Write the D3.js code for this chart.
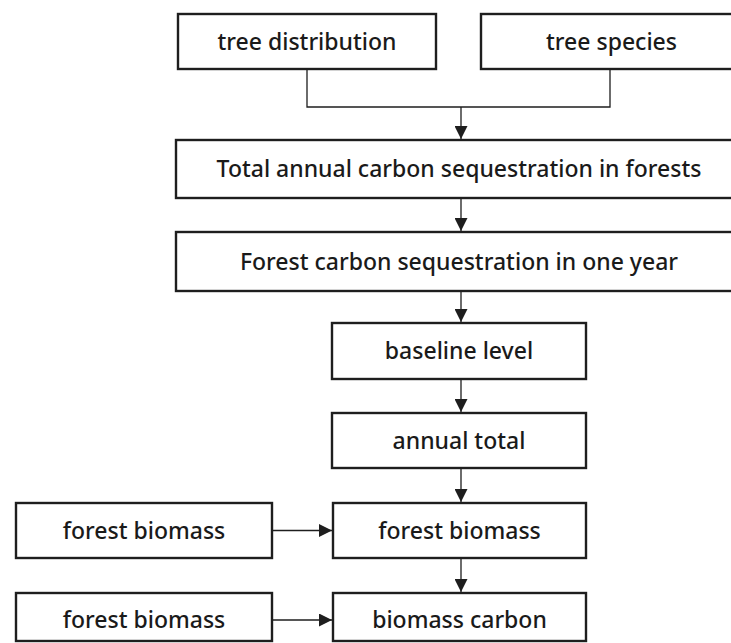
<!DOCTYPE html>
<html lang="en">
<head>
    <meta charset="utf-8">
    <script type="text/javascript" src="https://d3js.org/d3.v7.min.js"></script>
    <style>
        body { margin: 0; background: #fff; overflow: hidden; }
    </style>
</head>

<body>
    <script type="text/javascript">
        let w = 731;
        let h = 643;

        // node ids and their labels
        let nodeIds = ["dist", "species", "total", "oneYear", "baseline", "annual", "biomass", "carbon", "srcA", "srcB"];
        let nodeLabels = ["tree distribution", "tree species",
            "Total annual carbon sequestration in forests",
            "Forest carbon sequestration in one year",
            "baseline level", "annual total", "forest biomass", "biomass carbon",
            "forest biomass", "forest biomass"];

        // flow: [from, to]
        let mergeFrom = ["dist", "species"];
        let mergeTo = "total";
        let chainLinks = [["total", "oneYear"], ["oneYear", "baseline"], ["baseline", "annual"],
            ["annual", "biomass"], ["biomass", "carbon"]];
        let sideLinks = [["srcA", "biomass"], ["srcB", "carbon"]];

        // layout (x0, y0, x1, y1) per node -- right column runs off the page
        let layout = {
            dist:     [178, 14, 436, 69],
            species:  [481, 14, 742, 69],
            total:    [176, 140, 742, 198],
            oneYear:  [176, 232, 742, 291],
            baseline: [332, 323, 586, 379],
            annual:   [332, 413, 586, 468],
            biomass:  [333, 503, 586, 558],
            carbon:   [333, 593, 586, 641],
            srcA:     [16, 503, 272, 558],
            srcB:     [16, 593, 272, 641]
        };
        let spineX = 461;
        let mergeY = 107;

        let nodes = nodeIds.map(function(id, i) {
            let r = layout[id];
            return { id: id, label: nodeLabels[i], x0: r[0], y0: r[1], x1: r[2], y1: r[3] };
        });
        let byId = {};
        nodes.forEach(function(n) { byId[n.id] = n; });

        let svg = d3.select("body").append("svg")
            .attr("width", w)
            .attr("height", h);

        let ink = "#1e1e1e";

        svg.append("defs").append("marker")
            .attr("id", "arrow")
            .attr("viewBox", "0 0 10 10")
            .attr("refX", 10)
            .attr("refY", 5)
            .attr("markerUnits", "userSpaceOnUse")
            .attr("markerWidth", 14)
            .attr("markerHeight", 13)
            .attr("orient", "auto")
            .append("path")
            .attr("d", "M0,0 L10,5 L0,10 Z")
            .attr("fill", ink);

        let line = d3.line();

        // merge connector from the two top boxes
        mergeFrom.forEach(function(id) {
            let n = byId[id];
            let cx = Math.round((n.x0 + n.x1) / 2);
            if (id == "species") cx = 610;
            svg.append("path")
                .attr("d", line([[cx, n.y1], [cx, mergeY], [spineX, mergeY]]))
                .attr("fill", "none")
                .attr("stroke", ink)
                .attr("stroke-width", 1.3);
        });
        svg.append("path")
            .attr("d", line([[spineX, mergeY], [spineX, byId[mergeTo].y0 - 1]]))
            .attr("fill", "none")
            .attr("stroke", ink)
            .attr("stroke-width", 1.3)
            .attr("marker-end", "url(#arrow)");

        // vertical chain arrows
        svg.selectAll("path.chain")
            .data(chainLinks)
            .join("path")
            .attr("class", "chain")
            .attr("d", function(d) {
                let a = byId[d[0]], b = byId[d[1]];
                return line([[spineX, a.y1], [spineX, b.y0 - 1]]);
            })
            .attr("fill", "none")
            .attr("stroke", ink)
            .attr("stroke-width", 1.3)
            .attr("marker-end", "url(#arrow)");

        // side arrows
        svg.selectAll("path.side")
            .data(sideLinks)
            .join("path")
            .attr("class", "side")
            .attr("d", function(d) {
                let a = byId[d[0]], b = byId[d[1]];
                let y = (a.y0 + a.y1) / 2;
                if (d[1] == "carbon") y = a.y0 + 27;
                return line([[a.x1, y], [b.x0 - 1, y]]);
            })
            .attr("fill", "none")
            .attr("stroke", ink)
            .attr("stroke-width", 1.3)
            .attr("marker-end", "url(#arrow)");

        // boxes
        let g = svg.selectAll("g.node")
            .data(nodes)
            .join("g")
            .attr("class", "node");

        g.append("rect")
            .attr("x", function(d) { return d.x0; })
            .attr("y", function(d) { return d.y0; })
            .attr("width", function(d) { return d.x1 - d.x0; })
            .attr("height", function(d) { return d.y1 - d.y0; })
            .attr("fill", "#fff")
            .attr("stroke", ink)
            .attr("stroke-width", 2.4);

        g.append("text")
            .text(function(d) { return d.label; })
            .attr("x", function(d) { return (d.x0 + d.x1) / 2; })
            .attr("y", function(d) {
                if (d.id == "carbon" || d.id == "srcB") return d.y0 + 27;
                return (d.y0 + d.y1) / 2;
            })
            .attr("dy", "0.35em")
            .attr("text-anchor", "middle")
            .attr("font-family", "'Noto Sans', 'Open Sans', sans-serif")
            .attr("font-size", 23)
            .attr("font-weight", 500)
            .attr("fill", "#1a1a1a");
    </script>
</body>
</html>
